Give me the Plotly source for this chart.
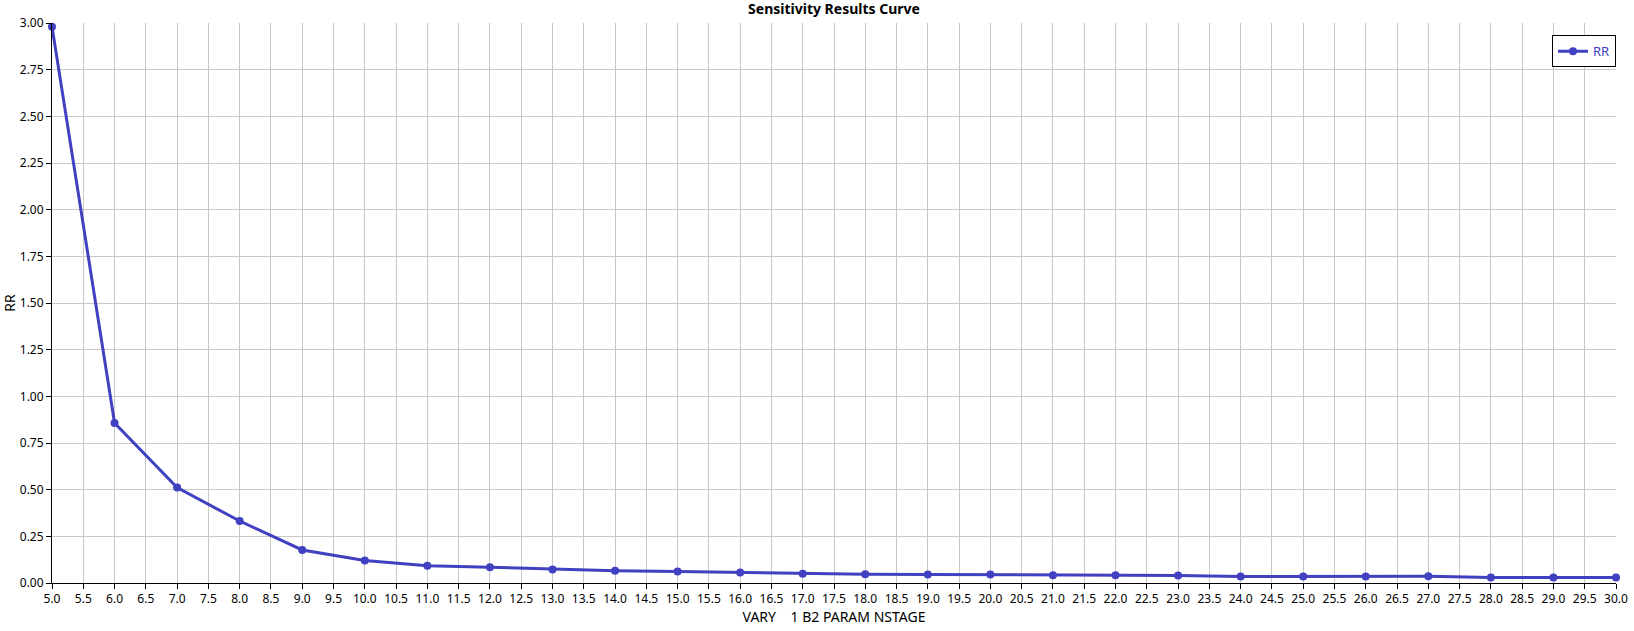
import plotly.graph_objects as go

# sensitivity case values
nstage = [5, 6, 7, 8, 9, 10, 11, 12, 13, 14, 15, 16, 17, 18, 19, 20, 21, 22,
          23, 24, 25, 26, 27, 28, 29, 30]
rr = [2.98, 0.857, 0.511, 0.332, 0.177, 0.120, 0.093, 0.084, 0.072, 0.066,
      0.061, 0.056, 0.050, 0.047, 0.046, 0.045, 0.041, 0.041, 0.040, 0.035,
      0.035, 0.035, 0.036, 0.029, 0.029, 0.029]

line_color = "#4040c0"
font_name = "Noto Sans"

fig = go.Figure()

fig.add_trace(
    go.Scatter(
        x=nstage,
        y=rr,
        mode="lines+markers",
        name="RR",
        line=dict(color=line_color, width=3),
        marker=dict(color=line_color, size=8),
        cliponaxis=False,
    )
)

fig.update_layout(
    width=1634,
    height=631,
    paper_bgcolor="white",
    plot_bgcolor="white",
    margin=dict(l=52, r=18, t=23, b=48, autoexpand=False),
    font=dict(family=font_name, size=12, color="black"),
    title=dict(
        text="<b>Sensitivity Results Curve</b>",
        x=0.5,
        xref="paper",
        y=0.985,
        yanchor="middle",
        font=dict(family=font_name, size=14, color="black"),
    ),
    showlegend=True,
    legend=dict(
        x=1.0,
        y=0.978,
        xanchor="right",
        yanchor="top",
        bordercolor="black",
        borderwidth=1,
        bgcolor="white",
        font=dict(color=line_color, size=13),
        itemwidth=30,
        tracegroupgap=0,
    ),
)

fig.update_xaxes(
    title=dict(text="VARY    1 B2 PARAM NSTAGE", standoff=4),
    automargin=False,
    range=[5, 30],
    dtick=0.5,
    tick0=5,
    tickformat=".1f",
    showgrid=True,
    gridcolor="#c8c8c8",
    gridwidth=1,
    showline=True,
    linecolor="black",
    linewidth=1,
    ticks="outside",
    ticklen=5,
    tickcolor="black",
    zeroline=False,
)

fig.update_yaxes(
    title=dict(text="RR", standoff=4),
    automargin=False,
    range=[0, 3],
    dtick=0.25,
    tick0=0,
    tickformat=".2f",
    showgrid=True,
    gridcolor="#c8c8c8",
    gridwidth=1,
    showline=True,
    linecolor="black",
    linewidth=1,
    ticks="outside",
    ticklen=5,
    tickcolor="black",
    zeroline=False,
)

# drop the default page margin so the figure sits flush in the window
fig.write_html(
    "out.html",
    config={"displayModeBar": False},
    post_script="document.body.style.margin='0';document.body.style.overflow='hidden';",
)
